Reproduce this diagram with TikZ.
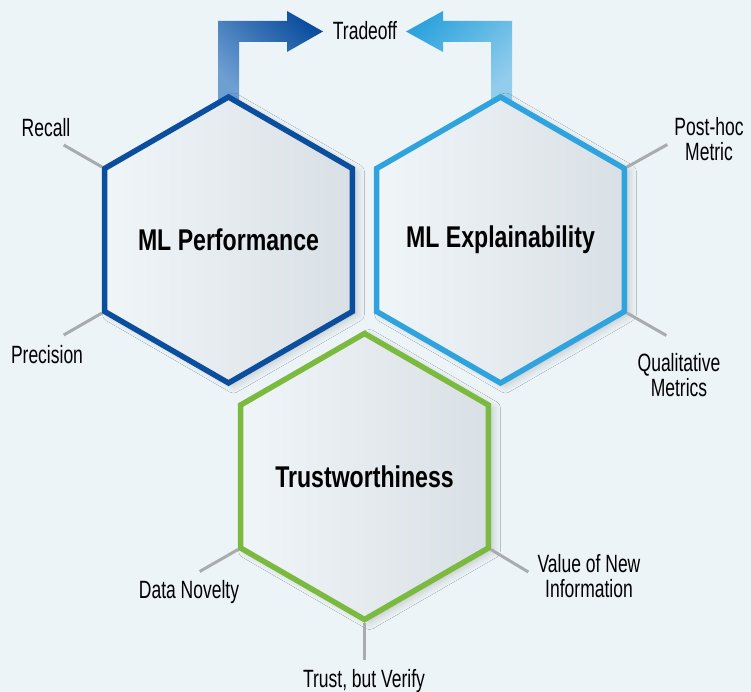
\documentclass[tikz,border=0pt]{standalone}
\usepackage{fontspec}
\setmainfont{Liberation Sans}[FakeStretch=0.7,BoldFeatures={FakeStretch=0.77}]
\usetikzlibrary{shapes.geometric,positioning,shadows.blur}
\definecolor{bgcol}{HTML}{EDF4F8}
\definecolor{perfblue}{HTML}{0C4E9E}
\definecolor{perflight}{HTML}{6E9FD2}
\definecolor{explblue}{HTML}{2EA3DD}
\definecolor{expllight}{HTML}{92CDEC}
\definecolor{trustgreen}{HTML}{7CBA3F}
\definecolor{hexleft}{HTML}{F0F5F8}
\definecolor{hexright}{HTML}{D9E0E5}
\definecolor{tickgray}{HTML}{A9ACAE}

\begin{document}
\begin{tikzpicture}[x=1pt,y=-1pt,
    hexa/.style={regular polygon,regular polygon sides=6,shape border rotate=30,
        minimum size=286pt,inner sep=0pt,outer sep=0pt,line width=5.5pt,
        left color=hexleft,right color=hexright,
        blur shadow={shadow xshift=5pt,shadow yshift=-3pt,shadow blur radius=7pt,shadow opacity=18},
        label={[font=\bfseries\fontsize{30}{32}\selectfont]center:#1}},
    tick/.style={draw=tickgray,line width=3pt,shorten <=3pt},
    lbl/.style={font=\fontsize{25}{24.5}\selectfont,align=center,inner sep=0pt}]
    \fill[bgcol] (0,0) rectangle (751,692);
    \useasboundingbox (0,0) rectangle (751,692);

    \shade[bottom color=perflight,top color=perfblue,shading angle=-45]
        (218,100) -- (218,21) -- (287,21) -- (287,11) -- (323,31.5)
        -- (287,52) -- (287,42) -- (239,42) -- (239,100) -- cycle;
    \shade[bottom color=expllight,top color=explblue,shading angle=45]
        (512,100) -- (512,21) -- (443,21) -- (443,11) -- (406,31.5)
        -- (443,52) -- (443,42) -- (491,42) -- (491,100) -- cycle;
    \node [lbl] (tradeoff) at (365,31) {Tradeoff};

    \node [hexa=ML Performance,draw=perfblue] (perf) at (228.5,240) {};
    \node [hexa=ML Explainability,draw=explblue] (expl) at (500.5,240) {};
    \node [hexa=Trustworthiness,draw=trustgreen] (trust) at (364.5,476.5) {};

    \draw[tick] (perf.150) -- ++(-41,-23.5) coordinate (recallEnd);
    \draw[tick] (perf.210) -- ++(-41,23.5) coordinate (precisionEnd);
    \draw[tick] (expl.30) -- ++(43,-24) coordinate (posthocEnd);
    \draw[tick] (expl.-30) -- ++(42,24) coordinate (qualEnd);
    \draw[tick] (trust.210) -- ++(-41,23.5) coordinate (noveltyEnd);
    \draw[tick] (trust.-30) -- ++(40,24) coordinate (valueEnd);
    \draw[tick] (trust.270) -- ++(0,40) coordinate (verifyEnd);

    \node [lbl] (recall) at (46,128) {Recall};
    \node [lbl] (precision) at (47,355) {Precision};
    \node [lbl] (posthoc) at (709,139) {Post-hoc\\Metric};
    \node [lbl] (qual) at (679,375) {Qualitative\\Metrics};
    \node [lbl] (novelty) at (189,592) {Data Novelty};
    \node [lbl] (value) at (589,576) {Value of New\\Information};
    \node [lbl] (verify) at (364,681) {Trust, but Verify};
\end{tikzpicture}
\end{document}
